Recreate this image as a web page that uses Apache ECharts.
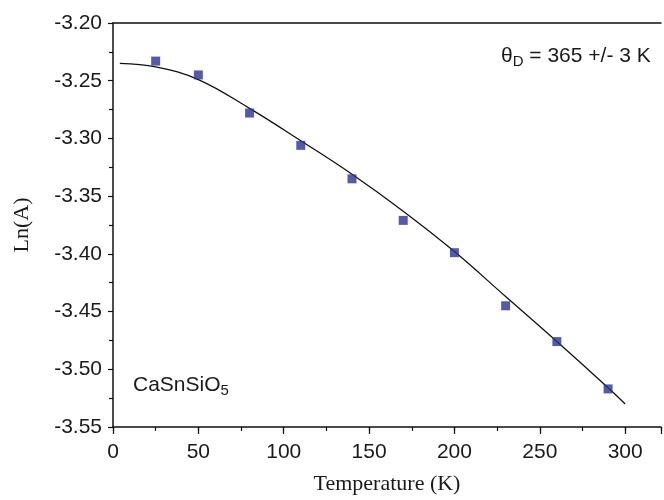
<!DOCTYPE html>
<html>
<head>
<meta charset="utf-8">
<script src="https://cdn.jsdelivr.net/npm/echarts@6/dist/echarts.min.js"></script>
<style>
html,body{margin:0;padding:0;background:#fff;}
#c{width:664px;height:500px;}
</style>
</head>
<body>
<div id="c"></div>
<script>
// Measured data (Temperature K, Ln(A))
var tempPoints = [25, 50, 80, 110, 140, 170, 200, 230, 260, 290];
var lnAPoints = [-3.233, -3.245, -3.278, -3.306, -3.335, -3.371, -3.399, -3.445, -3.476, -3.517];

// Debye fit curve
var tempFit = [4, 25, 50, 80, 110, 140, 170, 200, 230, 260, 290, 300];
var lnAFit = [-3.235, -3.238, -3.249, -3.274, -3.302, -3.331, -3.363, -3.398, -3.437, -3.476, -3.516, -3.530];

var xTicks = [0, 50, 100, 150, 200, 250, 300];
var yTicks = ['-3.20', '-3.25', '-3.30', '-3.35', '-3.40', '-3.45', '-3.50', '-3.55'];

var sans = '"Liberation Sans", Arial, sans-serif';
var serif = '"Liberation Serif", "Times New Roman", serif';

var chart = echarts.init(document.getElementById('c'), null, {renderer: 'canvas'});

var scatterData = tempPoints.map(function (t, i) { return [t, lnAPoints[i]]; });
var fitData = tempFit.map(function (t, i) { return [t, lnAFit[i]]; });

var axisColor = '#111';
var textColor = '#1a1a1a';

chart.setOption({
  animation: false,
  backgroundColor: '#fff',
  grid: {left: 113, top: 23, right: 0, bottom: 64, containLabel: false},
  xAxis: [
    {
      type: 'value', min: 0, max: 321, interval: 50, position: 'bottom',
      name: 'Temperature (K)', nameLocation: 'middle', nameGap: 46,
      nameTextStyle: {fontFamily: serif, fontSize: 22, color: textColor},
      axisLine: {show: true, onZero: false, lineStyle: {color: axisColor, width: 1.5}},
      axisTick: {show: true, inside: false, length: 7, lineStyle: {color: axisColor, width: 1.2}},
      axisLabel: {
        margin: 15, fontFamily: sans, fontSize: 21, color: textColor,
        formatter: function (v) { return xTicks.indexOf(v) >= 0 ? String(v) : ''; }
      },
      splitLine: {show: false}
    },
    {
      type: 'value', min: 0, max: 321, interval: 25, position: 'bottom',
      axisLine: {show: false},
      axisTick: {show: true, inside: false, length: 4, lineStyle: {color: axisColor, width: 1.2}},
      axisLabel: {show: false},
      splitLine: {show: false}
    },
    {
      type: 'value', min: 0, max: 321, position: 'top',
      axisLine: {show: true, onZero: false, lineStyle: {color: axisColor, width: 1.5}},
      axisTick: {show: false}, axisLabel: {show: false}, splitLine: {show: false}
    }
  ],
  yAxis: {
    type: 'value', min: -3.55, max: -3.20, interval: 0.05,
    name: 'Ln(A)', nameLocation: 'middle', nameGap: 80, nameRotate: 90,
    nameTextStyle: {fontFamily: serif, fontSize: 22, color: textColor},
    axisLine: {show: true, onZero: false, lineStyle: {color: axisColor, width: 1.5}},
    axisTick: {show: true, inside: false, length: 5, lineStyle: {color: axisColor, width: 1.2}},
    minorTick: {show: true, splitNumber: 2, length: 4, lineStyle: {color: axisColor, width: 1.2}},
    axisLabel: {
      margin: 11, fontFamily: sans, fontSize: 21, color: textColor,
      formatter: function (v) {
        var s = v.toFixed(2);
        return yTicks.indexOf(s) >= 0 ? s : '';
      }
    },
    splitLine: {show: false}
  },
  series: [
    {
      type: 'line', data: fitData, smooth: 0.4, showSymbol: false, symbol: 'none',
      xAxisIndex: 0,
      lineStyle: {color: '#111', width: 1.3}, z: 2
    },
    {
      type: 'scatter', data: scatterData, symbol: 'rect', symbolSize: 9,
      xAxisIndex: 0,
      itemStyle: {color: '#2a3391'}, z: 3
    }
  ],
  graphic: [
    {
      type: 'text', left: 501, top: 46,
      style: {
        text: '{a|θ}{s|D}{a| = 365 +/- 3 K}',
        rich: {
          a: {fontFamily: sans, fontSize: 21, fill: textColor, color: textColor},
          s: {fontFamily: sans, fontSize: 15, fill: textColor, color: textColor, padding: [11, 0, 0, 0]}
        }
      }
    },
    {
      type: 'text', left: 133, top: 375,
      style: {
        text: '{a|CaSnSiO}{s|5}',
        rich: {
          a: {fontFamily: sans, fontSize: 21, fill: textColor, color: textColor},
          s: {fontFamily: sans, fontSize: 15, fill: textColor, color: textColor, padding: [11, 0, 0, 0]}
        }
      }
    }
  ]
});
</script>
</body>
</html>
